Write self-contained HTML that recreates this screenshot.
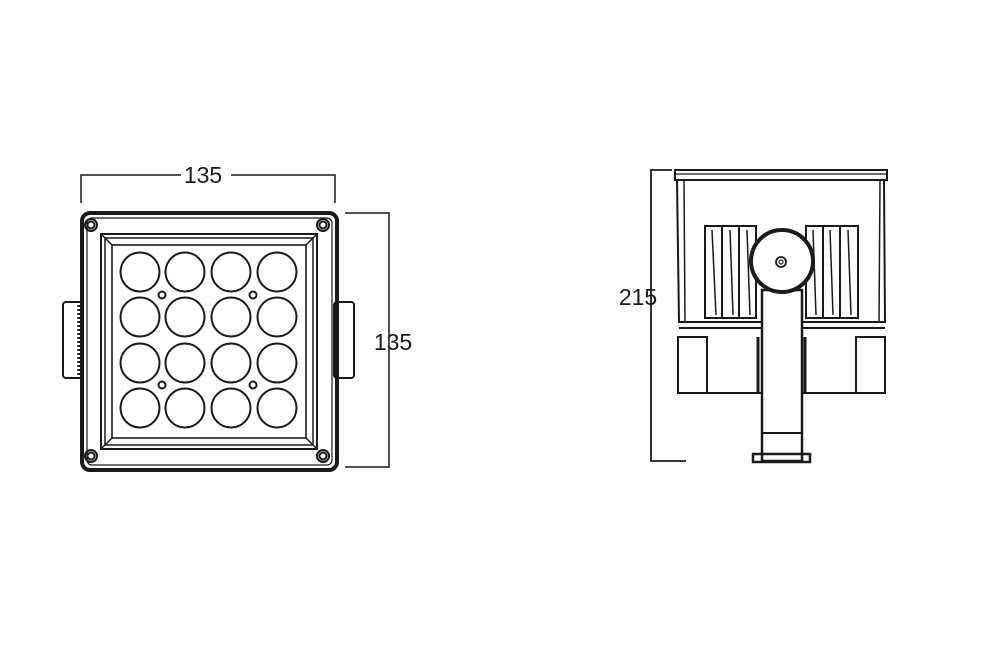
<!DOCTYPE html>
<html><head><style>body{margin:0;background:#fff}svg{display:block}</style></head><body>
<svg width="1000" height="666" viewBox="0 0 1000 666" xmlns="http://www.w3.org/2000/svg" fill="none" stroke="#1a1a1a">
<rect width="1000" height="666" fill="#fff" stroke="none"/>
<!-- LEFT VIEW -->
<g stroke-width="1.5">
<polyline points="81,203 81,175 181,175"/><polyline points="231,175 335,175 335,203"/>
<polyline points="345,213 389,213 389,467 345,467"/>
</g>
<text x="203" y="183" font-family="Liberation Sans, sans-serif" font-size="23" fill="#1a1a1a" stroke="none" text-anchor="middle">135</text>
<text x="393" y="350" font-family="Liberation Sans, sans-serif" font-size="23" fill="#1a1a1a" stroke="none" text-anchor="middle">135</text>
<!-- brackets -->
<rect x="63" y="302" width="20" height="76" rx="3" stroke-width="2"/>
<rect x="334" y="302" width="20" height="76" rx="3" stroke-width="2"/>
<line x1="79" y1="305" x2="79" y2="375" stroke-width="3.5" stroke-dasharray="2,2"/>
<line x1="337" y1="305" x2="337" y2="375" stroke-width="3.5" stroke-dasharray="2,2"/>
<rect x="82" y="213" width="255" height="257" rx="8" stroke-width="4"/>
<rect x="87" y="218" width="245" height="247" rx="5" stroke-width="1.2"/>
<rect x="101" y="234" width="216" height="215" stroke-width="2"/>
<rect x="112" y="245" width="194" height="193" stroke-width="1.6"/>
<g stroke-width="1.5">
<line x1="101" y1="234" x2="112" y2="245"/><line x1="317" y1="234" x2="306" y2="245"/>
<line x1="101" y1="449" x2="112" y2="438"/><line x1="317" y1="449" x2="306" y2="438"/>
<rect x="105" y="238" width="208" height="207"/>
</g>
<g stroke-width="2">
<circle cx="91" cy="225" r="6"/><circle cx="91" cy="225" r="3.5"/>
<circle cx="323" cy="225" r="6"/><circle cx="323" cy="225" r="3.5"/>
<circle cx="91" cy="456" r="6"/><circle cx="91" cy="456" r="3.5"/>
<circle cx="323" cy="456" r="6"/><circle cx="323" cy="456" r="3.5"/>
</g>
<g stroke-width="2">
<circle cx="140" cy="272" r="19.5"/><circle cx="185" cy="272" r="19.5"/><circle cx="231" cy="272" r="19.5"/><circle cx="277" cy="272" r="19.5"/>
<circle cx="140" cy="317" r="19.5"/><circle cx="185" cy="317" r="19.5"/><circle cx="231" cy="317" r="19.5"/><circle cx="277" cy="317" r="19.5"/>
<circle cx="140" cy="363" r="19.5"/><circle cx="185" cy="363" r="19.5"/><circle cx="231" cy="363" r="19.5"/><circle cx="277" cy="363" r="19.5"/>
<circle cx="140" cy="408" r="19.5"/><circle cx="185" cy="408" r="19.5"/><circle cx="231" cy="408" r="19.5"/><circle cx="277" cy="408" r="19.5"/>
<circle cx="162" cy="295" r="3.5"/><circle cx="253" cy="295" r="3.5"/>
<circle cx="162" cy="385" r="3.5"/><circle cx="253" cy="385" r="3.5"/>
</g>
<!-- RIGHT VIEW -->
<polyline points="672,170 651,170 651,461 686,461" stroke-width="1.8"/>
<text x="638" y="305" font-family="Liberation Sans, sans-serif" font-size="23" fill="#1a1a1a" stroke="none" text-anchor="middle">215</text>
<g stroke-width="2">
<rect x="675" y="170" width="212" height="10"/>
<line x1="675" y1="174" x2="887" y2="174" stroke-width="1.2"/>
<polyline points="677,180 679,322 885,322 884,180"/>
<line x1="684" y1="180" x2="685" y2="322" stroke-width="1.5"/>
<line x1="880" y1="180" x2="879" y2="322" stroke-width="1.5"/>
<line x1="679" y1="328" x2="885" y2="328"/>
<!-- fins -->
<rect x="705" y="226" width="17" height="92"/><rect x="722" y="226" width="17" height="92"/><rect x="739" y="226" width="17" height="92"/>
<rect x="806" y="226" width="17" height="92"/><rect x="823" y="226" width="17" height="92"/><rect x="840" y="226" width="18" height="92"/>
<line x1="712" y1="230" x2="716" y2="315" stroke-width="1.5"/><line x1="730" y1="230" x2="733" y2="315" stroke-width="1.5"/><line x1="747" y1="230" x2="750" y2="315" stroke-width="1.5"/>
<line x1="813" y1="230" x2="816" y2="315" stroke-width="1.5"/><line x1="830" y1="230" x2="833" y2="315" stroke-width="1.5"/><line x1="848" y1="230" x2="851" y2="315" stroke-width="1.5"/>
<!-- lower blocks -->
<rect x="678" y="337" width="29" height="56"/>
<rect x="856" y="337" width="29" height="56"/>
<line x1="679" y1="393" x2="885" y2="393"/>
<line x1="758" y1="337" x2="758" y2="393" stroke-width="3"/>
<line x1="805" y1="337" x2="805" y2="393" stroke-width="3"/>
<!-- stem -->
<rect x="762" y="290" width="40" height="171" fill="#fff" stroke-width="2.5"/>
<line x1="763" y1="433" x2="801" y2="433"/>
<rect x="753" y="454" width="57" height="8" stroke-width="2.5"/>
<circle cx="782" cy="261" r="31" fill="#fff" stroke-width="4"/>
<circle cx="781" cy="262" r="5" stroke-width="1.8"/>
<circle cx="781" cy="262" r="2" stroke-width="1.2"/>
</g>
</svg>
</body></html>
